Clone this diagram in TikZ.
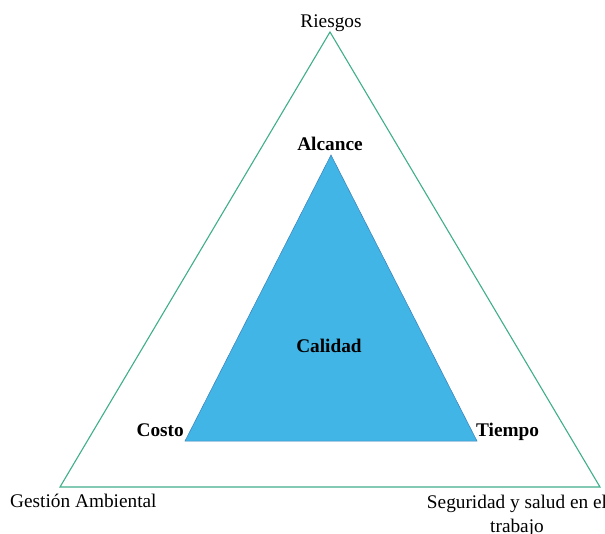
\documentclass[tikz,border=0pt]{standalone}
\usepackage{fontspec}
\setmainfont{Liberation Serif}
\definecolor{outerline}{HTML}{3FAE8A}
\definecolor{innerfill}{HTML}{41B6E6}
\definecolor{innerline}{HTML}{3A7FB8}
\begin{document}
\begin{tikzpicture}[x=1pt,y=-1pt,
  lbl/.style={font=\fontsize{19.3}{23.5}\selectfont, inner sep=0pt},
  blbl/.style={inner sep=0pt, font=\fontsize{19.3}{23.5}\selectfont\bfseries},
  outer/.style={draw=outerline, line width=1.1pt},
  inner/.style={fill=innerfill, draw=innerline, line width=0.5pt}]
\useasboundingbox (0,0) rectangle (605,533);
\clip (0,0) rectangle (605,533);
% outer triangle
\coordinate (top) at (330,32);
\coordinate (bl) at (60,487);
\coordinate (br) at (600,487);
\draw[outer] (top) -- (bl) -- (br) -- cycle;
% inner triangle
\coordinate (itop) at (331,155);
\coordinate (ibl) at (185,441);
\coordinate (ibr) at (477,441);
\filldraw[inner] (itop) -- (ibl) -- (ibr) -- cycle;
% labels
\node[lbl, anchor=base] (riesgos) at (331,27) {Riesgos};
\node[lbl, anchor=base west] (gestion) at (10,507) {Gestión Ambiental};
\node[lbl, anchor=base, align=center] (seguridad) at (517,532) {Seguridad y salud en el\\trabajo};
\node[blbl, anchor=base] (alcance) at (330,150) {Alcance};
\node[blbl, anchor=base] (calidad) at (329,352) {Calidad};
\node[blbl, anchor=base east] (costo) at (184,436) {Costo};
\node[blbl, anchor=base west] (tiempo) at (476,436) {Tiempo};
\end{tikzpicture}
\end{document}
